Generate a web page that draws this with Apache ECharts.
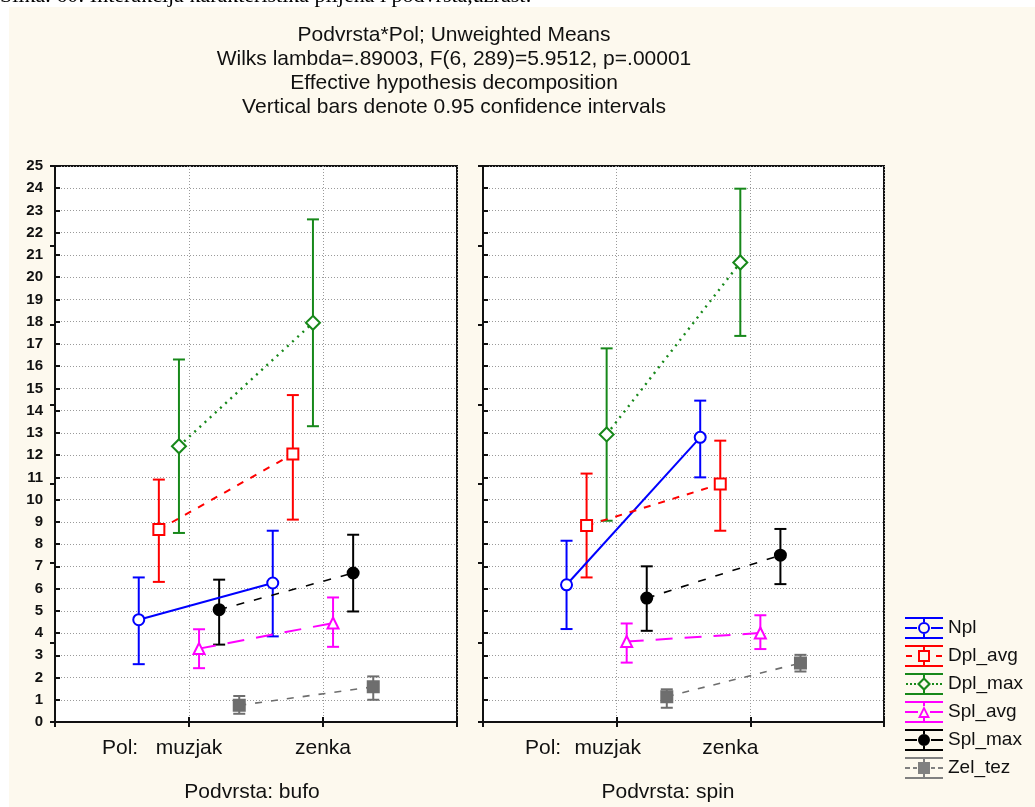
<!DOCTYPE html>
<html><head><meta charset="utf-8">
<script src="https://cdn.jsdelivr.net/npm/echarts@6/dist/echarts.min.js"></script>
<style>html,body{margin:0;padding:0;background:#fff}#c{width:1035px;height:807px}</style>
</head><body><div id="c"></div>
<script>
// ---------- data ----------
const categories = ['muzjak', 'zenka'];
const panels = ['bufo', 'spin'];
const seriesNames = ['Npl', 'Dpl_avg', 'Dpl_max', 'Spl_avg', 'Spl_max', 'Zel_tez'];
// rows follow seriesNames, columns follow categories
const bufoMean = [[4.6, 6.25], [8.65, 12.05], [12.4, 17.95], [3.3, 4.45], [5.05, 6.7], [0.75, 1.58]];
const bufoLow  = [[2.6, 3.85], [6.3, 9.1],   [8.5, 13.3],   [2.42, 3.38], [3.48, 4.97], [0.37, 1.0]];
const bufoHigh = [[6.5, 8.6],  [10.9, 14.7], [16.3, 22.6],  [4.17, 5.6],  [6.4, 8.42],  [1.17, 2.05]];
const spinMean = [[6.17, 12.8], [8.83, 10.7], [12.93, 20.66], [3.62, 4.0], [5.57, 7.5], [1.14, 2.65]];
const spinLow  = [[4.18, 11.0], [6.5, 8.6],   [9.05, 17.36],  [2.67, 3.28], [4.1, 6.2], [0.64, 2.27]];
const spinHigh = [[8.15, 14.45], [11.17, 12.65], [16.8, 23.98], [4.43, 4.8], [7.0, 8.68], [1.47, 3.02]];
const titleLines = ['Podvrsta*Pol; Unweighted Means',
  'Wilks lambda=.89003, F(6, 289)=5.9512, p=.00001',
  'Effective hypothesis decomposition',
  'Vertical bars denote 0.95 confidence intervals'];
const caption = 'Slika. 60: Interakcija karakteristika plijena i podvrsta,uzrast:';

// ---------- styling ----------
const dodge = [-0.375, -0.225, -0.075, 0.075, 0.225, 0.375];
const styles = [
  {color: '#0000ff', symbol: 'circle', size: 11, fill: '#ffffff', line: 'solid', lw: 2},
  {color: '#ff0000', symbol: 'rect', size: 11, fill: '#ffffff', line: [7, 8], lw: 2},
  {color: '#17881a', symbol: 'diamond', size: 14, fill: '#ffffff', line: [2, 5], lw: 2.4},
  {color: '#ff00ff', symbol: 'triangle', size: 11, fill: '#ffffff', line: [17, 12], lw: 2},
  {color: '#000000', symbol: 'circle', size: 11, fill: '#000000', line: [8, 10], lw: 1.6},
  {color: '#6e6e6e', symbol: 'rect', size: 11, fill: '#6e6e6e', line: [7, 9], lw: 1.6}
];
const frame = 'M0 0H38V2H0Z M0 20H38V22H0Z M18 2H20V5H18Z M18 17H20V20H18Z ';
const icons = [
  frame + 'M0 10H12V12H0Z M26 10H38V12H26Z M13 11A6 6 0 1 1 25 11A6 6 0 1 1 13 11Z M15 11A4 4 0 1 0 23 11A4 4 0 1 0 15 11Z',
  frame + 'M1 10H7V12H1Z M31 10H37V12H31Z M13 5H25V17H13Z M15 7V15H23V7Z',
  frame + 'M1 10H3V12H1Z M5 10H7V12H5Z M9 10H11V12H9Z M27 10H29V12H27Z M31 10H33V12H31Z M35 10H37V12H35Z M19 4L26 11L19 18L12 11Z M19 7L15 11L19 15L23 11Z',
  frame + 'M0 10H13V12H0Z M25 10H38V12H25Z M19 5L25 17L13 17Z M19 9L16 15L22 15Z',
  frame + 'M0 10H12V12H0Z M26 10H38V12H26Z M13 11A6 6 0 1 1 25 11A6 6 0 1 1 13 11Z',
  frame + 'M0 10H5V12H0Z M8 10H12V12H8Z M26 10H30V12H26Z M33 10H38V12H33Z M13 5H25V17H13Z'
];

const panelData = [
  {mean: bufoMean, low: bufoLow, high: bufoHigh},
  {mean: spinMean, low: spinLow, high: spinHigh}
];

const series = [];
panelData.forEach((pd, p) => {
  seriesNames.forEach((name, k) => {
    const st = styles[k];
    series.push({
      type: 'custom', name: name, xAxisIndex: p, yAxisIndex: p, z: 1,
      data: categories.map((c, i) => [i + 1 + dodge[k], pd.low[k][i], pd.high[k][i]]),
      encode: {x: 0, y: [1, 2]},
      silent: true,
      renderItem: (params, api) => {
        const x = api.value(0);
        const lo = api.coord([x, api.value(1)]);
        const hi = api.coord([x, api.value(2)]);
        const hw = 6;
        const s = {stroke: st.color, lineWidth: 2};
        return {type: 'group', children: [
          {type: 'line', shape: {x1: lo[0], y1: hi[1], x2: lo[0], y2: lo[1]}, style: s},
          {type: 'line', shape: {x1: lo[0] - hw, y1: hi[1], x2: lo[0] + hw, y2: hi[1]}, style: s},
          {type: 'line', shape: {x1: lo[0] - hw, y1: lo[1], x2: lo[0] + hw, y2: lo[1]}, style: s}
        ]};
      }
    });
  });
  seriesNames.forEach((name, k) => {
    const st = styles[k];
    series.push({
      type: 'line', name: name, xAxisIndex: p, yAxisIndex: p, z: 3,
      data: categories.map((c, i) => [i + 1 + dodge[k], pd.mean[k][i]]),
      symbol: st.symbol, symbolSize: st.size, showSymbol: true,
      lineStyle: {color: st.color, width: st.lw, type: st.line},
      itemStyle: {color: st.fill, borderColor: st.color, borderWidth: 2},
      emphasis: {disabled: true}, silent: true, animation: false
    });
  });
});

const font = "'Liberation Sans', Arial, sans-serif";
const grids = [
  {left: 55, top: 166, width: 402, height: 556},
  {left: 483, top: 166, width: 401, height: 556}
].map(g => Object.assign(g, {show: true, backgroundColor: '#ffffff', borderColor: '#111', borderWidth: 2}));

const gridLine = {show: true, lineStyle: {color: '#9a9a9a', width: 1, type: [1, 2]}};
const labelPad = [[0, 0], [18, 40]];
const xAxes = [];
[0, 1].forEach(p => xAxes.push({
  type: 'value', gridIndex: p, min: 0, max: 3, interval: 1, position: 'bottom',
  axisLine: {show: true, lineStyle: {color: '#111', width: 2}},
  axisTick: {show: true, inside: true, length: 5, lineStyle: {color: '#111', width: 2}},
  splitLine: gridLine,
  axisLabel: {
    margin: 16, color: '#111', fontFamily: font, fontSize: 21,
    formatter: v => (v >= 1 && v <= categories.length) ? '{c' + v + '|' + categories[v - 1] + '}' : '',
    rich: {
      c1: {fontFamily: font, fontSize: 21, color: '#111', padding: [0, labelPad[p][0], 0, 0]},
      c2: {fontFamily: font, fontSize: 21, color: '#111', padding: [0, labelPad[p][1], 0, 0]}
    }
  }
}));
[0, 1].forEach(p => xAxes.push({
  type: 'value', gridIndex: p, min: 0, max: 3, interval: 1, position: 'top',
  axisLine: {show: true, lineStyle: {color: '#111', width: 2}},
  axisTick: {show: true, inside: true, length: 5, lineStyle: {color: '#111', width: 2}},
  splitLine: {show: false}, axisLabel: {show: false}
}));
const yAxes = [];
[0, 1].forEach(p => yAxes.push({
  type: 'value', gridIndex: p, min: 0, max: 25, interval: 1, position: 'left',
  axisLine: {show: true, lineStyle: {color: '#111', width: 2}},
  axisTick: {show: true, inside: true, length: 5, lineStyle: {color: '#111', width: 2}},
  splitLine: gridLine,
  axisLabel: {show: p === 0, margin: 12, color: '#111', fontFamily: font, fontSize: 15, fontWeight: 'bold'}
}));
[0, 1].forEach(p => yAxes.push({
  type: 'value', gridIndex: p, min: 0, max: 25, interval: 25 / 7, position: 'right',
  axisLine: {show: true, lineStyle: {color: '#111', width: 2}},
  axisTick: {show: true, inside: true, length: 5, lineStyle: {color: '#111', width: 2}},
  splitLine: {show: false}, axisLabel: {show: false}
}));

const txt = (size) => ({fontFamily: font, fontSize: size, fontWeight: 'normal', color: '#111'});
const option = {
  animation: false,
  backgroundColor: '#fdf9ee',
  graphic: [
    {type: 'rect', shape: {x: 0, y: 0, width: 1035, height: 7}, style: {fill: '#ffffff'}, silent: true},
    {type: 'rect', shape: {x: 0, y: 0, width: 9, height: 807}, style: {fill: '#ffffff'}, silent: true}
  ],
  title: [
    {text: caption, left: 0, top: -15, padding: 0,
     textStyle: {fontFamily: "'Liberation Serif', 'Times New Roman', serif", fontSize: 22, fontWeight: 'normal', color: '#000'}},
    {text: titleLines.join('\n'), left: 449, top: 18, textAlign: 'center',
     textStyle: Object.assign(txt(21), {lineHeight: 24})},
    {text: 'Pol:', left: 102, top: 738, padding: 0, textStyle: txt(21)},
    {text: 'Pol:', left: 525, top: 738, padding: 0, textStyle: txt(21)},
    {text: 'Podvrsta: ' + panels[0], left: 252, top: 782, textAlign: 'center', padding: 0, textStyle: txt(21)},
    {text: 'Podvrsta: ' + panels[1], left: 668, top: 782, textAlign: 'center', padding: 0, textStyle: txt(21)}
  ],
  legend: {
    orient: 'vertical', left: 900, top: 612, itemWidth: 38, itemHeight: 22, itemGap: 6,
    selectedMode: false,
    textStyle: {fontFamily: font, fontSize: 19, color: '#111'},
    data: seriesNames.map((n, k) => ({name: n, icon: 'path://' + icons[k],
      itemStyle: {color: styles[k].color === '#6e6e6e' ? '#808080' : styles[k].color, borderWidth: 0}}))
  },
  grid: grids,
  xAxis: xAxes,
  yAxis: yAxes,
  series: series
};
const chart = echarts.init(document.getElementById('c'), null, {renderer: 'canvas'});
chart.setOption(option);
</script></body></html>
